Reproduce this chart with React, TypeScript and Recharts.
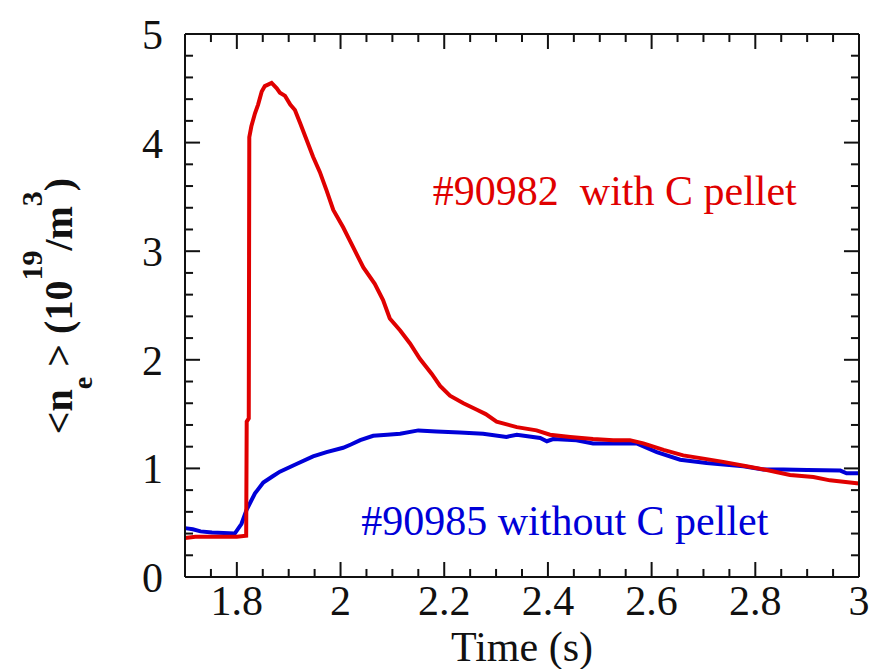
import { LineChart, Line, XAxis, YAxis, ReferenceDot, ReferenceLine } from "recharts"

// shot #90982, with C pellet
const redTime = [
  1.7, 1.72, 1.76, 1.8, 1.818, 1.819, 1.823, 1.824, 1.828, 1.835, 1.841, 1.848, 1.854, 1.867,
  1.877, 1.883, 1.893, 1.903, 1.912, 1.922, 1.935, 1.947, 1.96, 1.973, 1.986, 2.005, 2.025,
  2.044, 2.066, 2.082, 2.095, 2.115, 2.134, 2.153, 2.176, 2.192, 2.211, 2.237, 2.263, 2.28,
  2.301, 2.34, 2.378, 2.404, 2.443, 2.487, 2.526, 2.558, 2.584, 2.623, 2.661, 2.7, 2.738,
  2.783, 2.822, 2.867, 2.912, 2.944, 3.0,
]
const redValue = [
  0.36, 0.37, 0.37, 0.37, 0.38, 1.43, 1.46, 4.05, 4.15, 4.27, 4.35, 4.47, 4.52, 4.55,
  4.5, 4.46, 4.43, 4.35, 4.3, 4.18, 4.02, 3.87, 3.73, 3.56, 3.38, 3.22, 3.03,
  2.85, 2.7, 2.55, 2.38, 2.27, 2.15, 2.01, 1.87, 1.76, 1.67, 1.6, 1.54, 1.5,
  1.43, 1.38, 1.35, 1.31, 1.29, 1.27, 1.26, 1.26, 1.23, 1.17, 1.12, 1.09, 1.06,
  1.02, 0.985, 0.94, 0.92, 0.89, 0.86,
]

// shot #90985, without C pellet
const blueTime = [
  1.7, 1.715, 1.73, 1.752, 1.796, 1.809, 1.819, 1.835, 1.851, 1.87, 1.883, 1.915, 1.947,
  1.973, 2.005, 2.02, 2.038, 2.063, 2.09, 2.115, 2.15, 2.185, 2.23, 2.275, 2.32, 2.34,
  2.385, 2.398, 2.41, 2.455, 2.487, 2.571, 2.61, 2.655, 2.706, 2.777, 2.815, 2.854, 2.9,
  2.964, 2.976, 3.0,
]
const blueValue = [
  0.45, 0.44, 0.42, 0.41, 0.4, 0.49, 0.62, 0.77, 0.87, 0.93, 0.97, 1.04, 1.11,
  1.15, 1.19, 1.22, 1.26, 1.3, 1.31, 1.32, 1.35, 1.34, 1.33, 1.32, 1.29, 1.31,
  1.28, 1.25, 1.27, 1.26, 1.23, 1.23, 1.15, 1.08, 1.05, 1.02, 0.99, 0.99, 0.985,
  0.98, 0.955, 0.955,
]

// labelled ticks and the small ones in between
const xMajor = [1.8, 2, 2.2, 2.4, 2.6, 2.8, 3]
const xMinor = [
  1.75, 1.85, 1.9, 1.95, 2.05, 2.1, 2.15, 2.25, 2.3, 2.35, 2.45, 2.5, 2.55, 2.65, 2.7, 2.75,
  2.85, 2.9, 2.95,
]
const yMajor = [0, 1, 2, 3, 4, 5]
const yMinor = [
  0.2, 0.4, 0.6, 0.8, 1.2, 1.4, 1.6, 1.8, 2.2, 2.4, 2.6, 2.8, 3.2, 3.4, 3.6, 3.8, 4.2, 4.4,
  4.6, 4.8,
]

const redData = redTime.map((t, i) => ({ t, v: redValue[i] }))
const blueData = blueTime.map((t, i) => ({ t, v: blueValue[i] }))

const FONT = "'Liberation Serif', 'Times New Roman', serif"
const RED = "#e00000"
const BLUE = "#0000d8"
const INK = "#111"
const X0 = 1.7
const X1 = 3
const Y0 = 0
const Y1 = 5
// inward tick lengths in data units (about 15px / 8px)
const XBIG = 0.029
const XSMALL = 0.0155
const YBIG = 0.138
const YSMALL = 0.074

const tickStyle = { fontSize: 42, fill: INK, fontFamily: FONT }

function YLabel() {
  return (
    <text
      transform="translate(72,306) rotate(-90)"
      textAnchor="middle"
      fontFamily={FONT}
      fontSize={40}
      fontWeight="bold"
      fill={INK}
    >
      {"<n"}
      <tspan dy={20} fontSize={28}>e</tspan>
      <tspan dy={-20}>{" > (10"}</tspan>
      <tspan dy={-30} fontSize={30}>19</tspan>
      <tspan dy={30}>/m</tspan>
      <tspan dy={-30} fontSize={30}>3</tspan>
      <tspan dy={30}>)</tspan>
    </text>
  )
}

function XLabel(props: any) {
  const vb = props.viewBox
  return (
    <text x={vb.x + vb.width / 2} y={661} textAnchor="middle" fontFamily={FONT} fontSize={42} fill={INK}>
      Time (s)
    </text>
  )
}

const note = (text: string, color: string) => (props: any) => (
  <text
    x={props.viewBox.x}
    y={props.viewBox.y}
    fontFamily={FONT}
    fontSize={42}
    fill={color}
    style={{ whiteSpace: "pre" }}
  >
    {text}
  </text>
)

const frame = { stroke: INK, strokeWidth: 2 }

function tickSegs(key: string, segs: { x: number; y: number }[][]) {
  return segs.map((s, i) => (
    <ReferenceLine key={key + i} xAxisId="main" yAxisId="main" segment={s} stroke={INK}
      strokeWidth={2} ifOverflow="visible" />
  ))
}

export default function App() {
  const xTicks = [
    ...xMajor.map((t) => ({ t, h: YBIG })),
    ...xMinor.map((t) => ({ t, h: YSMALL })),
  ]
  const yTicks = [
    ...yMajor.map((v) => ({ v, w: XBIG })),
    ...yMinor.map((v) => ({ v, w: XSMALL })),
  ]
  const bottom = xTicks.map(({ t, h }) => [{ x: t, y: Y0 }, { x: t, y: Y0 + h }])
  const top = xTicks.map(({ t, h }) => [{ x: t, y: Y1 }, { x: t, y: Y1 - h }])
  const left = yTicks.map(({ v, w }) => [{ x: X0, y: v }, { x: X0 + w, y: v }])
  const right = yTicks.map(({ v, w }) => [{ x: X1, y: v }, { x: X1 - w, y: v }])

  return (
    <div style={{ position: "absolute", left: 0, top: 0, background: "#fff" }}>
      <LineChart width={876} height={669} margin={{ top: 33, right: 16, bottom: 0, left: 0 }}>
        <XAxis xAxisId="main" dataKey="t" type="number" domain={[X0, X1]} ticks={xMajor} interval={0}
          height={92} tickSize={0} tickMargin={8} tickLine={false} axisLine={frame}
          tick={tickStyle} label={<XLabel />} />
        <XAxis xAxisId="top" orientation="top" dataKey="t" type="number" domain={[X0, X1]}
          height={1} tick={false} tickLine={false} axisLine={frame} />
        <YAxis yAxisId="main" type="number" domain={[Y0, Y1]} ticks={yMajor} interval={0} width={185}
          tickSize={0} tickMargin={22} tickLine={false} axisLine={frame}
          tick={tickStyle} label={<YLabel />} />
        <YAxis yAxisId="right" orientation="right" type="number" domain={[Y0, Y1]}
          width={1} tick={false} tickLine={false} axisLine={frame} />

        {tickSegs("b", bottom)}
        {tickSegs("t", top)}
        {tickSegs("l", left)}
        {tickSegs("r", right)}

        <Line xAxisId="main" yAxisId="main" data={blueData} dataKey="v" type="linear" stroke={BLUE}
          strokeWidth={4} dot={false} isAnimationActive={false} />
        <Line xAxisId="main" yAxisId="main" data={redData} dataKey="v" type="linear" stroke={RED}
          strokeWidth={4} dot={false} isAnimationActive={false} />

        <ReferenceDot xAxisId="main" yAxisId="main" x={2.178} y={3.425} r={0} stroke="none"
          label={note("#90982  with C pellet", RED)} />
        <ReferenceDot xAxisId="main" yAxisId="main" x={2.04} y={0.387} r={0} stroke="none"
          label={note("#90985 without C pellet", BLUE)} />
      </LineChart>
    </div>
  )
}
